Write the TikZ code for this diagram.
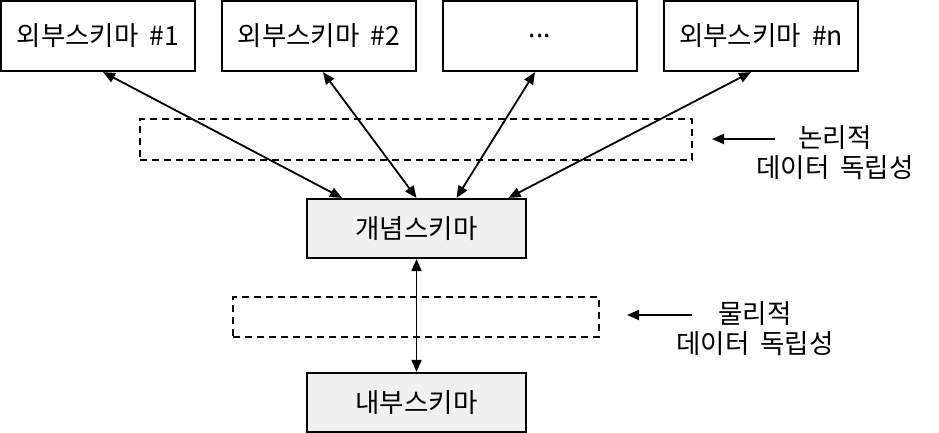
\documentclass[tikz,border=0pt]{standalone}
\usepackage{fontspec}
\setmainfont{Noto Sans CJK KR}
\usetikzlibrary{arrows.meta,calc}
\definecolor{boxgray}{HTML}{F0F0F0}
\newcommand{\wgap}{\hspace{0.42em}}
\begin{document}
\begin{tikzpicture}[x=1pt,y=-1pt,
  every node/.style={font=\fontsize{26.5}{30}\selectfont, inner sep=0pt},
  schemabox/.style={draw=black, line width=2.2pt, minimum width=194pt, minimum height=70pt, fill=white},
  corebox/.style={draw=black, line width=2.2pt, minimum width=219pt, minimum height=59pt, fill=boxgray},
  indepbox/.style={draw=black, line width=1.7pt, dash pattern=on 7pt off 5pt},
  biarrow/.style={line width=1.8pt, {Triangle[length=12pt,width=10pt]}-{Triangle[length=12pt,width=10pt]}},
  onearrow/.style={line width=1.8pt, -{Triangle[length=12pt,width=10pt]}},
  label/.style={align=center}
]
\useasboundingbox (0,0) rectangle (939,433);
% dashed independence regions
\node[indepbox, minimum width=552pt, minimum height=41pt] (d1) at (416,139.5) {};
\node[indepbox, minimum width=366pt, minimum height=40pt] (d2) at (416,317) {};
% external schemas
\node[schemabox] (e1) at (98,36) {외부스키마\wgap\#1};
\node[schemabox] (e2) at (319,36) {외부스키마\wgap\#2};
\node[schemabox] (e3) at (540,36) {...};
\node[schemabox] (e4) at (761,36) {외부스키마\wgap\#n};
% conceptual and internal
\node[corebox] (c) at (416.5,228.5) {개념스키마};
\node[corebox] (i) at (416.5,402.5) {내부스키마};
% connectors
\draw[biarrow] ([xshift=5pt]e1.south) -- ([xshift=-74.5pt]c.north);
\draw[biarrow] ([xshift=4pt]e2.south) -- ([xshift=0pt]c.north);
\draw[biarrow] ([xshift=-5pt]e3.south) -- ([xshift=40pt]c.north);
\draw[biarrow] ([xshift=-10pt]e4.south) -- ([xshift=92pt]c.north);
\draw[biarrow] (c.south) -- (i.north);
% labels
\node[label] (l1) at (835,153) {논리적\\데이터\wgap 독립성};
\node[label] (l2) at (755,329) {물리적\\데이터\wgap 독립성};
\coordinate (l1a) at (775,139);
\coordinate (l1b) at (712,139);
\coordinate (l2a) at (692,315);
\coordinate (l2b) at (627,315);
\draw[onearrow] (l1a) -- (l1b);
\draw[onearrow] (l2a) -- (l2b);
\end{tikzpicture}
\end{document}
